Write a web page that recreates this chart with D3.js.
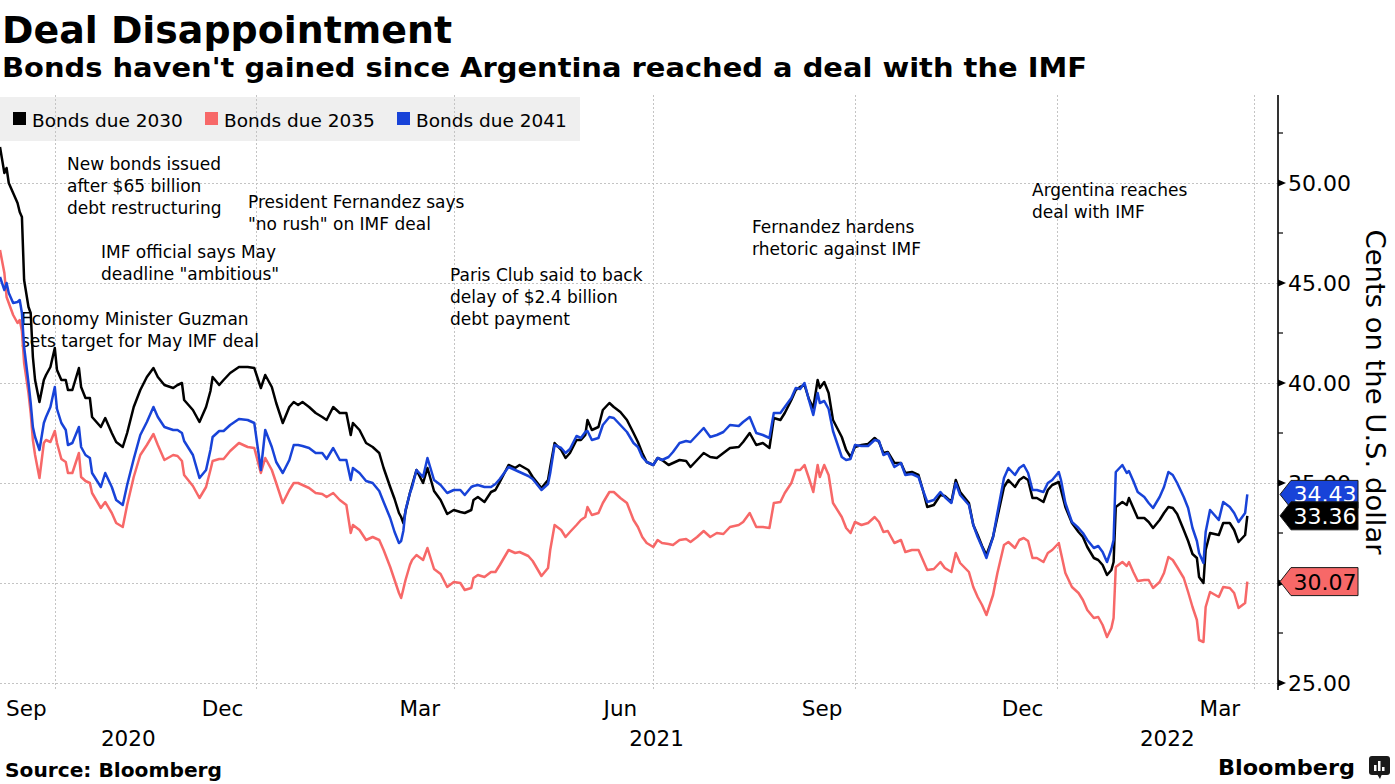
<!DOCTYPE html>
<html><head><meta charset="utf-8">
<script src="https://cdn.jsdelivr.net/npm/d3@7"></script>
<style>
html,body{margin:0;padding:0;background:#fff;}
svg{display:block;font-family:"DejaVu Sans",sans-serif;}
</style></head>
<body>
<svg id="chart" width="1395" height="784"></svg>
<script>
// ---------------- DATA ----------------
const dates = [
"2020-09-06","2020-09-08","2020-09-09","2020-09-10","2020-09-12","2020-09-14","2020-09-15","2020-09-16","2020-09-17","2020-09-19",
"2020-09-20","2020-09-21","2020-09-22","2020-09-24","2020-09-26","2020-09-27","2020-09-29","2020-10-01","2020-10-02","2020-10-04",
"2020-10-06","2020-10-07","2020-10-09","2020-10-12","2020-10-13","2020-10-15","2020-10-17","2020-10-18","2020-10-22","2020-10-24",
"2020-10-27","2020-10-29","2020-11-01","2020-11-03","2020-11-06","2020-11-09","2020-11-12","2020-11-15","2020-11-17","2020-11-20",
"2020-11-24","2020-11-26","2020-11-28","2020-11-29","2020-12-03","2020-12-06","2020-12-09","2020-12-11","2020-12-12","2020-12-15",
"2020-12-17","2020-12-20","2020-12-24","2020-12-28","2020-12-31","2021-01-03","2021-01-05","2021-01-08","2021-01-10","2021-01-13",
"2021-01-16","2021-01-18","2021-01-20","2021-01-22","2021-01-25","2021-01-28","2021-01-31","2021-02-02","2021-02-05","2021-02-08",
"2021-02-11","2021-02-13","2021-02-14","2021-02-17","2021-02-20","2021-02-23","2021-02-26","2021-02-28","2021-03-03","2021-03-05",
"2021-03-07","2021-03-08","2021-03-09","2021-03-10","2021-03-12","2021-03-13","2021-03-15","2021-03-18","2021-03-20","2021-03-23",
"2021-03-26","2021-03-29","2021-04-01","2021-04-04","2021-04-06","2021-04-09","2021-04-10","2021-04-12","2021-04-15","2021-04-18",
"2021-04-20","2021-04-22","2021-04-26","2021-04-29","2021-05-01","2021-05-05","2021-05-07","2021-05-11","2021-05-14","2021-05-15",
"2021-05-17","2021-05-20","2021-05-22","2021-05-24","2021-05-27","2021-05-29","2021-05-31","2021-06-01","2021-06-03","2021-06-06",
"2021-06-08","2021-06-11","2021-06-13","2021-06-16","2021-06-19","2021-06-22","2021-06-24","2021-06-26","2021-06-28","2021-07-01",
"2021-07-03","2021-07-05","2021-07-08","2021-07-10","2021-07-13","2021-07-16","2021-07-18","2021-07-21","2021-07-24","2021-07-27",
"2021-07-30","2021-08-02","2021-08-05","2021-08-09","2021-08-11","2021-08-14","2021-08-17","2021-08-20","2021-08-23","2021-08-25",
"2021-08-28","2021-08-30","2021-09-02","2021-09-04","2021-09-06","2021-09-08","2021-09-10","2021-09-12","2021-09-14","2021-09-15",
"2021-09-17","2021-09-19","2021-09-21","2021-09-25","2021-09-27","2021-09-29","2021-10-01","2021-10-04","2021-10-07","2021-10-10",
"2021-10-12","2021-10-14","2021-10-16","2021-10-19","2021-10-22","2021-10-24","2021-10-27","2021-10-30","2021-11-01","2021-11-03",
"2021-11-06","2021-11-09","2021-11-11","2021-11-14","2021-11-16","2021-11-18","2021-11-22","2021-11-24","2021-11-26","2021-11-28",
"2021-11-30","2021-12-03","2021-12-05","2021-12-08","2021-12-10","2021-12-13","2021-12-15","2021-12-17","2021-12-19","2021-12-21",
"2021-12-23","2021-12-26","2021-12-28","2021-12-30","2022-01-02","2022-01-03","2022-01-05","2022-01-08","2022-01-11","2022-01-13",
"2022-01-15","2022-01-18","2022-01-20","2022-01-22","2022-01-24","2022-01-26","2022-01-27","2022-01-28","2022-01-31","2022-02-02",
"2022-02-03","2022-02-05","2022-02-07","2022-02-10","2022-02-12","2022-02-14","2022-02-17","2022-02-19","2022-02-21","2022-02-23",
"2022-02-25","2022-02-28","2022-03-02","2022-03-04","2022-03-06","2022-03-07","2022-03-09","2022-03-10","2022-03-12","2022-03-16",
"2022-03-18","2022-03-21","2022-03-23","2022-03-25","2022-03-28","2022-03-29"
];

const bonds2030 = [
51.8,50.5,50.75,50.0,49.5,49.0,48.55,48.3,45.15,43.8,
43.5,41.3,40.15,39.05,40.15,40.4,40.8,41.75,40.65,40.15,
40.15,39.65,39.65,40.75,39.8,39.25,39.25,38.3,37.8,38.25,
37.5,37.05,36.8,37.5,38.8,39.65,40.3,40.75,40.3,39.9,
39.75,39.9,40.0,39.15,38.65,38.05,38.8,39.6,40.3,39.9,
40.15,40.5,40.8,40.8,40.75,39.75,40.4,39.8,39.0,38.0,
38.8,39.05,38.9,39.05,38.8,38.5,38.3,38.15,38.8,38.5,
38.5,37.4,38.0,37.65,37.0,36.8,36.5,35.75,34.8,34.2,
33.5,33.3,33.0,33.6,34.5,34.9,35.65,35.0,35.75,34.6,
34.15,33.45,33.65,33.55,33.5,33.65,34.15,34.3,34.05,34.55,
34.65,35.05,35.9,35.75,35.9,35.65,35.3,34.75,35.15,35.8,
37.0,36.65,36.25,36.5,37.15,37.15,37.4,38.15,37.65,37.8,
38.65,39.0,38.8,38.55,38.15,37.5,37.05,36.5,36.05,35.9,
36.25,36.15,35.9,36.0,36.15,36.1,35.8,36.15,36.5,36.3,
36.25,36.5,36.75,36.8,37.05,37.5,36.9,37.0,36.75,38.25,
38.15,38.5,39.15,39.65,39.8,39.9,39.2,38.75,40.15,39.75,
40.05,39.5,38.15,37.3,36.65,36.3,36.8,36.9,36.95,37.25,
37.05,36.5,36.55,36.0,36.0,35.5,35.55,35.4,34.65,33.8,
33.9,34.4,34.35,34.05,35.15,34.55,34.0,32.9,32.4,31.85,
31.4,32.3,33.3,34.8,35.15,34.8,35.15,35.3,35.15,34.25,
34.25,34.05,34.65,34.9,35.05,34.65,33.8,33.0,32.55,32.3,
31.8,31.25,31.15,30.9,30.4,30.65,31.05,33.8,34.05,33.9,
34.25,33.75,33.25,33.25,33.05,32.75,33.15,33.5,33.8,33.75,
33.45,32.65,32.1,31.45,31.25,30.3,30.0,31.65,32.5,32.4,
33.0,33.0,32.65,32.05,32.4,33.36
];

const bonds2035 = [
46.65,45.5,44.3,44.0,43.4,43.0,43.15,42.6,41.0,39.5,
38.5,37.15,36.4,35.25,37.0,37.15,37.05,37.6,37.0,36.2,
36.05,35.5,35.5,36.5,35.3,35.1,35.0,34.5,33.75,34.05,
33.5,33.0,32.8,33.9,35.3,36.4,36.9,37.45,36.9,36.15,
36.4,36.35,36.1,35.4,34.85,34.25,34.8,35.65,36.1,36.2,
36.2,36.6,37.0,36.8,36.75,35.5,36.25,35.65,35.0,34.0,
34.65,35.0,35.0,34.9,34.75,34.5,34.45,34.3,34.5,34.15,
33.9,32.5,32.9,32.65,32.15,32.3,32.15,31.65,30.8,30.15,
29.5,29.25,29.7,30.15,30.9,31.15,31.4,31.15,31.75,30.7,
30.45,29.8,30.05,30.0,29.65,29.75,30.25,30.4,30.3,30.55,
30.55,30.9,31.65,31.5,31.55,31.35,31.1,30.35,30.75,31.65,
32.9,32.65,32.3,32.55,32.9,33.15,33.3,33.8,33.4,33.5,
34.0,34.55,34.55,34.25,34.0,33.15,32.8,32.3,32.0,31.8,
32.15,32.0,31.95,31.9,32.15,32.2,32.05,32.3,32.6,32.3,
32.5,32.45,32.8,32.9,33.05,33.5,32.8,32.8,32.75,34.0,
34.05,34.5,35.0,35.65,35.65,35.9,35.25,34.55,35.9,35.3,
35.9,35.4,34.0,33.3,32.75,32.5,33.05,32.9,33.0,33.3,
33.05,32.55,32.6,32.0,32.15,31.55,31.65,31.65,31.15,30.65,
30.7,31.05,30.75,30.55,31.5,31.0,30.55,29.8,29.3,28.9,
28.4,29.4,30.5,31.9,32.05,31.75,32.15,32.25,32.1,31.25,
31.25,31.05,31.5,31.65,32.0,31.5,30.5,29.8,29.5,29.15,
28.65,28.25,28.3,27.9,27.3,27.75,28.25,30.8,31.05,30.85,
31.05,30.55,30.1,30.15,30.15,29.75,30.05,30.5,31.3,31.15,
30.8,30.25,29.55,28.8,28.15,27.15,27.05,28.8,29.55,29.3,
29.8,29.75,29.5,28.75,29.0,30.07
];

const bonds2041 = [
45.3,44.65,45.0,44.5,44.0,44.05,44.15,43.5,41.8,40.0,
39.0,37.8,37.3,36.65,38.0,38.3,38.8,39.8,38.7,38.0,
37.65,36.9,37.0,37.8,36.8,36.4,36.25,35.5,34.8,35.5,
34.8,34.15,33.9,34.9,36.2,37.4,38.05,38.8,38.3,37.8,
37.65,37.65,37.5,37.1,36.4,35.25,35.65,36.65,37.3,37.6,
37.6,37.9,38.2,38.15,38.0,35.65,37.65,36.8,36.05,35.5,
36.15,36.9,36.9,36.85,36.75,36.5,36.5,36.2,36.75,36.15,
36.15,35.15,35.75,35.5,35.1,35.0,34.6,34.05,33.25,32.55,
32.0,32.1,32.6,33.65,34.5,34.8,35.65,35.3,36.25,35.15,
34.9,34.5,34.65,34.65,34.4,34.8,34.85,34.9,34.8,34.8,
34.95,35.2,35.8,35.65,35.55,35.35,35.2,34.65,34.95,35.5,
36.9,36.75,36.5,36.7,37.35,37.25,37.55,37.6,37.15,37.25,
37.9,38.3,38.25,37.9,37.55,37.0,36.8,36.3,36.05,35.9,
36.25,36.15,36.3,36.55,37.0,37.1,37.05,37.4,37.75,37.3,
37.4,37.55,37.9,37.85,38.05,38.3,37.5,37.4,37.25,38.5,
38.5,38.8,39.25,39.75,39.7,40.0,39.15,38.4,39.5,39.0,
39.1,38.7,37.6,36.3,36.15,36.2,36.9,36.85,36.85,37.15,
37.1,36.4,36.5,35.8,36.0,35.4,35.45,35.3,34.65,34.05,
34.15,34.55,34.3,34.0,35.0,34.4,33.9,32.9,32.3,31.8,
31.25,32.3,33.5,35.25,35.75,35.4,35.75,35.9,35.5,34.65,
34.65,34.55,35.0,35.15,35.55,35.15,34.0,33.05,32.75,32.5,
32.15,31.75,31.85,31.55,31.05,31.7,32.15,35.55,35.9,35.5,
35.6,35.1,34.55,34.3,34.0,33.75,34.3,34.8,35.55,35.4,
35.0,34.3,33.75,32.75,32.1,31.5,31.0,32.55,33.65,33.15,
34.05,33.8,33.5,33.05,33.5,34.43
];

const seriesNames = ["Bonds due 2030","Bonds due 2035","Bonds due 2041"];
const seriesColors = ["#000000","#f76868","#1843d8"];
const tagTextColors = ["#ffffff","#000000","#ffffff"];

const yTicks = [25,30,35,40,45,50];
const yMinorTicks = [27.5,32.5,37.5,42.5,47.5,52.5];
const gridDates = ["2020-10-01","2021-01-01","2021-04-01","2021-07-01","2021-10-01","2022-01-01","2022-04-01"];
const monthStarts = ["2020-09-01","2020-12-01","2021-03-01","2021-06-01","2021-09-01","2021-12-01","2022-03-01"];
const monthLabels = ["Sep","Dec","Mar","Jun","Sep","Dec","Mar"];
const yearLabels = ["2020","2021","2022"];

const annotations = [
  {lines:["New bonds issued","after $65 billion","debt restructuring"], x:67, y:170},
  {lines:["President Fernandez says","\"no rush\" on IMF deal"], x:248, y:208},
  {lines:["IMF official says May","deadline \"ambitious\""], x:101, y:258},
  {lines:["Economy Minister Guzman","sets target for May IMF deal"], x:21, y:325},
  {lines:["Paris Club said to back","delay of $2.4 billion","debt payment"], x:450, y:281},
  {lines:["Fernandez hardens","rhetoric against IMF"], x:752, y:233},
  {lines:["Argentina reaches","deal with IMF"], x:1032, y:196}
];

// ---------------- LAYOUT ----------------
const parse = d3.utcParse("%Y-%m-%d");
const svg = d3.select("#chart");
const plotLeft = 0, plotRight = 1278, plotTop = 95, plotBottom = 690;

const x = d3.scaleUtc().domain([parse("2020-09-06"), parse("2022-04-12")]).range([plotLeft, plotRight]);
const y = d3.scaleLinear().domain([25, 50]).range([683, 183]);

const allSeries = [bonds2030, bonds2035, bonds2041];
const lastValues = allSeries.map(s => s[s.length-1]);

// Title & subtitle
svg.append("text").attr("x",2).attr("y",43).attr("font-size",38).attr("font-weight","bold")
  .attr("textLength",450).attr("lengthAdjust","spacingAndGlyphs").text("Deal Disappointment");
svg.append("text").attr("x",2).attr("y",77).attr("font-size",27).attr("font-weight","bold")
  .attr("textLength",1085).attr("lengthAdjust","spacingAndGlyphs")
  .text("Bonds haven't gained since Argentina reached a deal with the IMF");

// Legend background
svg.append("rect").attr("x",0).attr("y",97).attr("width",580).attr("height",44).attr("fill","#efefef");

// Grid
const grid = svg.append("g").attr("stroke","#c4c4c4").attr("stroke-width",1).attr("stroke-dasharray","2,2");
grid.selectAll("line.h").data(yTicks).join("line").attr("class","h")
  .attr("x1",plotLeft).attr("x2",plotRight).attr("y1",d=>y(d)+0.5).attr("y2",d=>y(d)+0.5);
grid.selectAll("line.v").data(gridDates).join("line").attr("class","v")
  .attr("x1",d=>Math.round(x(parse(d)))+0.5).attr("x2",d=>Math.round(x(parse(d)))+0.5)
  .attr("y1",plotTop).attr("y2",plotBottom);

// Legend items
const legendX = [13,205,397];
const lg = svg.append("g");
seriesNames.forEach((n,i)=>{
  lg.append("rect").attr("x",legendX[i]).attr("y",112).attr("width",13).attr("height",13).attr("fill",seriesColors[i]);
  lg.append("text").attr("x",legendX[i]+19).attr("y",126.5).attr("font-size",18.5).attr("fill","#000").text(n);
});

// Annotations
const ag = svg.append("g").attr("font-size",17).attr("fill","#000");
annotations.forEach(a=>{
  a.lines.forEach((l,i)=>{
    ag.append("text").attr("x",a.x).attr("y",a.y+i*22.2).text(l);
  });
});

// Lines
const lineGen = d3.line().x((d,i)=>x(parse(dates[i]))).y(d=>y(d));
const drawOrder = [1,0,2];
drawOrder.forEach(i=>{
  svg.append("path").datum(allSeries[i]).attr("fill","none").attr("stroke",seriesColors[i])
    .attr("stroke-width",2.5).attr("stroke-linejoin","round").attr("d",lineGen);
});

// Y axis (labels fully hidden behind a value tag in the reference are not drawn)
const visibleTicks = yTicks.filter(t => !lastValues.some(v => Math.abs(v - t) < 0.45));
const axisG = svg.append("g").attr("transform",`translate(${plotRight},0)`);
axisG.call(d3.axisRight(y).tickValues(visibleTicks).tickFormat(d3.format(".2f")).tickSize(0).tickPadding(10));
axisG.select(".domain").remove();
axisG.selectAll("text").attr("font-size",22).attr("font-family","DejaVu Sans").attr("fill","#000");
axisG.append("line").attr("x1",0).attr("x2",0).attr("y1",plotTop).attr("y2",plotBottom)
  .attr("stroke","#000").attr("stroke-width",1.6);
axisG.selectAll("path.tri").data(yTicks).join("path").attr("class","tri")
  .attr("d",d=>`M0,${y(d)-3.5}L8,${y(d)}L0,${y(d)+3.5}Z`).attr("fill","#000");
axisG.selectAll("line.minor").data(yMinorTicks).join("line").attr("class","minor")
  .attr("x1",0).attr("x2",5).attr("y1",d=>y(d)).attr("y2",d=>y(d)).attr("stroke","#000").attr("stroke-width",1.2);

// Y axis title
svg.append("text").attr("transform","translate(1366,392) rotate(90)").attr("text-anchor","middle")
  .attr("font-size",27).attr("textLength",325).attr("lengthAdjust","spacingAndGlyphs").text("Cents on the U.S. dollar");

// Last value tags
const tagOrder = [1,2,0];
tagOrder.forEach(i=>{
  const v = lastValues[i];
  const cy = y(v);
  const tg = svg.append("g");
  tg.append("path").attr("d",`M${plotRight+2},${cy}L${plotRight+13},${cy-14}L1358,${cy-14}L1358,${cy+14}L${plotRight+13},${cy+14}Z`)
    .attr("fill",seriesColors[i]).attr("stroke","#1a1a1a").attr("stroke-width",1);
  tg.append("text").attr("x",1325).attr("y",cy).attr("dy","0.36em").attr("text-anchor","middle")
    .attr("font-size",22).attr("fill",tagTextColors[i]).text(d3.format(".2f")(v));
});

// X axis labels
const xg = svg.append("g").attr("font-size",21.5).attr("fill","#000");
monthStarts.forEach((m,i)=>{
  const s = parse(m);
  const e = d3.utcMonth.offset(s,1);
  let cx = (x(s)+x(e))/2;
  const t = xg.append("text").attr("text-anchor","middle").attr("y",716).text(monthLabels[i]);
  const w = t.node().getComputedTextLength();
  if (cx - w/2 < 6) cx = 6 + w/2;
  t.attr("x",cx);
});
yearLabels.forEach(yr=>{
  const s = Math.max(x(parse(yr+"-01-01")), plotLeft);
  const e = Math.min(x(parse((+yr+1)+"-01-01")), plotRight);
  xg.append("text").attr("text-anchor","middle").attr("x",(s+e)/2).attr("y",746).text(yr);
});

// Footer
svg.append("text").attr("x",5).attr("y",777).attr("font-size",20).attr("font-weight","bold")
  .attr("textLength",217).attr("lengthAdjust","spacingAndGlyphs").text("Source: Bloomberg");
svg.append("text").attr("x",1218).attr("y",775).attr("font-size",22).attr("font-weight","bold")
  .attr("textLength",137).attr("lengthAdjust","spacingAndGlyphs").text("Bloomberg");
const logo = svg.append("g").attr("transform","translate(1369,756)");
logo.append("rect").attr("width",21).attr("height",19).attr("rx",3).attr("fill","#1a1a1a");
logo.append("path").attr("d","M8,18L11,23L13,18Z").attr("fill","#1a1a1a");
[[5,9,2.5],[9,5,2.5],[13,11,2.5]].forEach(b=>{
  logo.append("rect").attr("x",b[0]).attr("y",b[1]).attr("width",b[2]).attr("height",15-b[1]).attr("fill","#fff");
});
</script>
</body></html>
